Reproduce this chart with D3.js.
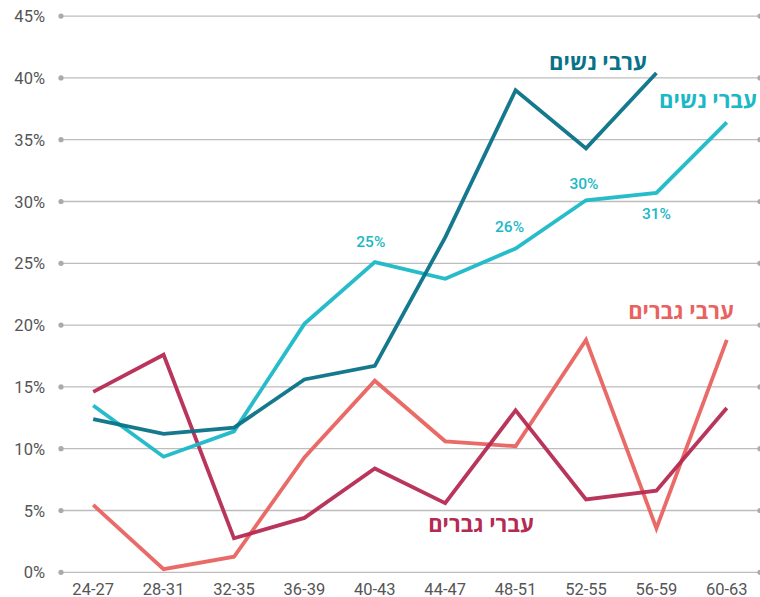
<!DOCTYPE html>
<html><head><meta charset="utf-8">
<script src="https://cdn.jsdelivr.net/npm/d3@7"></script>
<style>body{margin:0;background:#fff}svg{display:block}</style>
</head><body><svg id="c" width="760" height="597"></svg>
<script>
const categories = ["24-27","28-31","32-35","36-39","40-43","44-47","48-51","52-55","56-59","60-63"];
const arabWomen   = [12.4, 11.2, 11.7, 15.6, 16.7, 27.1, 39.0, 34.3, 40.4, null];
const jewishWomen = [13.5, 9.35, 11.4, 20.1, 25.1, 23.75, 26.2, 30.1, 30.7, 36.4];
const arabMen     = [5.45, 0.25, 1.26, 9.3, 15.5, 10.6, 10.2, 18.8, 3.56, 18.8];
const jewishMen   = [14.6, 17.6, 2.75, 4.4, 8.4, 5.6, 13.1, 5.9, 6.6, 13.3];
const yTicks = [0,5,10,15,20,25,30,35,40,45];
const seriesNames = ["ערבי נשים","עברי נשים","ערבי גברים","עברי גברים"];
const valueLabels = [
  {cat:"40-43", text:"25%", val:25.1, dx:-4, dy:-15},
  {cat:"48-51", text:"26%", val:26.2, dx:-6, dy:-16},
  {cat:"52-55", text:"30%", val:30.1, dx:-2, dy:-11},
  {cat:"56-59", text:"31%", val:30.7, dx:0, dy:26}
];

const svg = d3.select("#c");
const x = d3.scaleBand().domain(categories).range([58, 762]);
const y = d3.scaleLinear().domain([0,45]).range([572.3, 16.1]);
const cx = c => x(c) + x.bandwidth()/2;
const font = "Roboto,'Noto Sans',sans-serif";

const grid = svg.append("g");
yTicks.forEach(t => {
  grid.append("line").attr("x1",61).attr("x2",760).attr("y1",y(t)).attr("y2",y(t))
    .attr("stroke","#bdbdbd").attr("stroke-width",1.3);
  grid.append("circle").attr("cx",61).attr("cy",y(t)).attr("r",2.6).attr("fill","#aaa");
  grid.append("circle").attr("cx",760).attr("cy",y(t)).attr("r",2.6).attr("fill","#aaa");
  grid.append("text").attr("x",45).attr("y",y(t)+6).attr("text-anchor","end")
    .attr("font-family",font).attr("font-size",16.5).attr("fill","#555").text(t+"%");
});

const xAxis = svg.append("g");
categories.forEach(c => {
  xAxis.append("text").attr("x",cx(c)).attr("y",594.5).attr("text-anchor","middle")
    .attr("font-family",font).attr("font-size",16.5).attr("fill","#555").text(c);
});

const series = [
  {vals: arabMen, color:"#e8625e"},
  {vals: jewishMen, color:"#b52a52"},
  {vals: jewishWomen, color:"#1bb8c6"},
  {vals: arabWomen, color:"#087288"}
];
const line = d3.line().defined(d => d.v != null).x(d => cx(d.c)).y(d => y(d.v));
series.forEach(s => {
  svg.append("path").datum(categories.map((c,i)=>({c, v:s.vals[i]})))
    .attr("d", line).attr("fill","none").attr("stroke", s.color)
    .attr("stroke-width",3.8).attr("stroke-linejoin","miter").attr("stroke-opacity",0.95);
});

valueLabels.forEach(l => {
  svg.append("text").attr("x",cx(l.cat)+l.dx).attr("y",y(l.val)+l.dy).attr("text-anchor","middle")
    .attr("font-family",font).attr("font-size",15.5).attr("font-weight",500).attr("fill","#1bb8c6").text(l.text);
});

const nameLabels = [
  {text:seriesNames[0], x:598, y:70, color:"#087288"},
  {text:seriesNames[1], x:708, y:108, color:"#1bb8c6"},
  {text:seriesNames[2], x:681, y:319, color:"#e8625e"},
  {text:seriesNames[3], x:481, y:532, color:"#b52a52"}
];
nameLabels.forEach(l => {
  svg.append("text").attr("x",l.x).attr("y",l.y).attr("text-anchor","middle")
    .attr("font-family","'Open Sans','DejaVu Sans',sans-serif").attr("font-weight","bold")
    .attr("font-size",22).attr("fill",l.color).text(l.text);
});
</script></body></html>
